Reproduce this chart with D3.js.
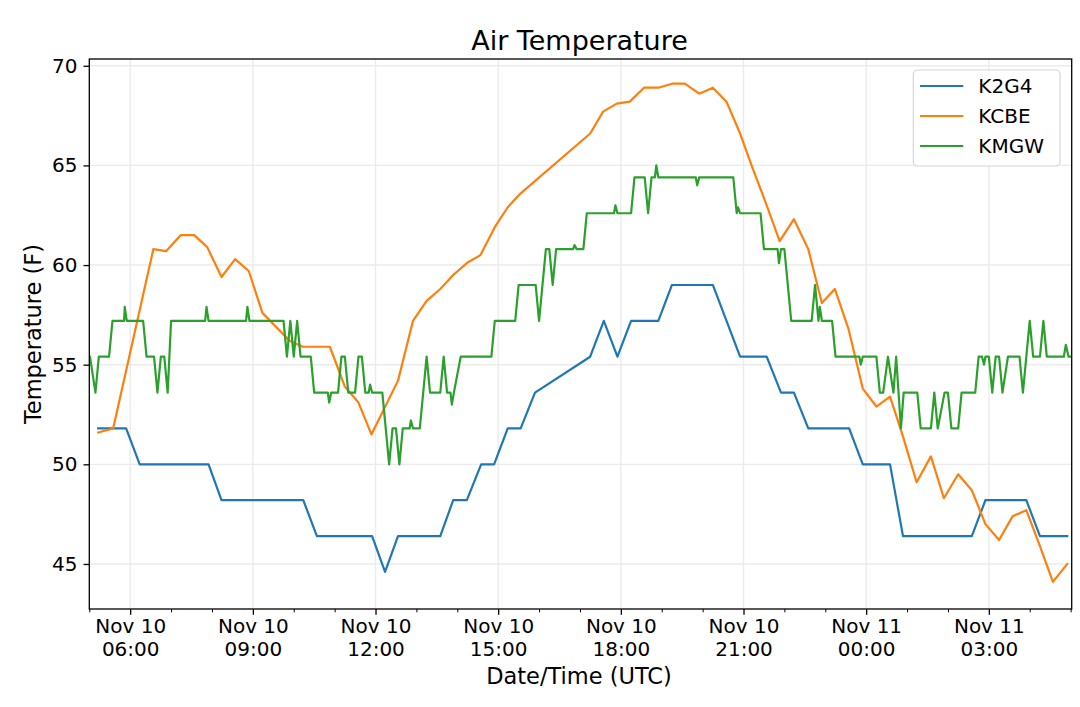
<!DOCTYPE html>
<html><head><meta charset="utf-8">
<script src="https://cdn.jsdelivr.net/npm/d3@7"></script>
<style>
body{margin:0;background:#fff}
svg{display:block}
text{font-family:"DejaVu Sans",sans-serif;fill:#000}
</style>
</head><body>
<svg id="chart" width="1080" height="707"></svg>
<script>
// ---------------- DATA ----------------
const seriesNames = ["K2G4", "KCBE", "KMGW"];
const seriesColors = ["#1f77b4", "#ff7f0e", "#2ca02c"];

const k2g4Times = ["10 05:13","10 05:54","10 06:14","10 07:55","10 08:14","10 10:14","10 10:34","10 11:55","10 12:14","10 12:33","10 13:35","10 13:54","10 14:14","10 14:35","10 14:54","10 15:14","10 15:33","10 15:54","10 17:15","10 17:35","10 17:55","10 18:15","10 18:55","10 19:15","10 20:15","10 20:55","10 21:34","10 21:55","10 22:14","10 22:35","10 23:35","10 23:55","11 00:35","11 00:54","11 02:35","11 02:55","11 03:55","11 04:15","11 04:55"];
const k2g4Temps = [51.8,51.8,50,50,48.2,48.2,46.4,46.4,44.6,46.4,46.4,48.2,48.2,50,50,51.8,51.8,53.6,55.4,57.2,55.4,57.2,57.2,59,59,55.4,55.4,53.6,53.6,51.8,51.8,50,50,46.4,46.4,48.2,48.2,46.4,46.4];

const kcbeTimes = ["10 05:13","10 05:35","10 06:34","10 06:53","10 07:14","10 07:34","10 07:53","10 08:14","10 08:34","10 08:54","10 09:14","10 09:54","10 10:13","10 10:53","10 11:15","10 11:35","10 11:54","10 12:33","10 12:55","10 13:15","10 13:35","10 13:54","10 14:14","10 14:34","10 14:55","10 15:14","10 15:33","10 17:15","10 17:34","10 17:54","10 18:13","10 18:34","10 18:55","10 19:15","10 19:34","10 19:55","10 20:15","10 20:35","10 20:55","10 21:14","10 21:34","10 21:53","10 22:14","10 22:35","10 22:55","10 23:14","10 23:34","10 23:55","11 00:15","11 00:35","11 00:54","11 01:14","11 01:35","11 01:54","11 02:15","11 02:35","11 02:55","11 03:15","11 03:35","11 03:55","11 04:15","11 04:34","11 04:55"];
const kcbeTemps = [51.6,51.8,60.8,60.7,61.5,61.5,60.9,59.4,60.3,59.7,57.6,56.2,55.9,55.9,53.9,53.1,51.5,54.2,57.2,58.2,58.8,59.5,60.1,60.5,61.9,62.9,63.6,66.6,67.7,68.1,68.2,68.9,68.9,69.1,69.1,68.6,68.9,68.2,66.6,64.8,63.0,61.2,62.3,60.8,58.1,58.8,56.8,53.8,52.9,53.4,51.4,49.1,50.4,48.3,49.5,48.7,47.0,46.2,47.4,47.7,45.9,44.1,45.0];

const kmgwTimes = ["10 05:01","10 05:09","10 05:14","10 05:29","10 05:34","10 05:51","10 05:52","10 05:55","10 06:19","10 06:24","10 06:35","10 06:40","10 06:45","10 06:50","10 06:55","10 07:00","10 07:50","10 07:52","10 07:55","10 08:50","10 08:52","10 08:55","10 09:45","10 09:50","10 09:55","10 10:00","10 10:05","10 10:10","10 10:25","10 10:30","10 10:50","10 10:52","10 10:55","10 11:05","10 11:10","10 11:15","10 11:20","10 11:30","10 11:35","10 11:40","10 11:45","10 11:50","10 11:52","10 11:55","10 12:10","10 12:20","10 12:25","10 12:30","10 12:35","10 12:40","10 12:50","10 12:52","10 12:55","10 13:05","10 13:15","10 13:20","10 13:35","10 13:40","10 13:45","10 13:50","10 13:52","10 13:55","10 14:05","10 14:50","10 14:55","10 15:25","10 15:30","10 15:55","10 16:00","10 16:10","10 16:15","10 16:20","10 16:25","10 16:50","10 16:52","10 16:55","10 17:05","10 17:10","10 17:50","10 17:52","10 17:55","10 18:15","10 18:20","10 18:35","10 18:40","10 18:45","10 18:50","10 18:52","10 18:55","10 19:50","10 19:52","10 19:55","10 20:45","10 20:50","10 20:52","10 20:55","10 21:25","10 21:30","10 21:50","10 21:52","10 21:55","10 22:00","10 22:10","10 22:40","10 22:45","10 22:50","10 22:52","10 22:55","10 23:10","10 23:15","10 23:50","10 23:52","10 23:55","11 00:15","11 00:20","11 00:25","11 00:32","11 00:40","11 00:44","11 00:51","11 00:55","11 01:15","11 01:20","11 01:35","11 01:40","11 01:45","11 01:55","11 02:00","11 02:05","11 02:15","11 02:20","11 02:40","11 02:45","11 02:50","11 02:53","11 02:55","11 03:00","11 03:05","11 03:10","11 03:15","11 03:20","11 03:28","11 03:45","11 03:50","11 03:55","11 04:00","11 04:05","11 04:15","11 04:20","11 04:25","11 04:50","11 04:53","11 04:57","11 05:00"];
const kmgwTemps = [55.4,53.6,55.4,55.4,57.2,57.2,57.9,57.2,57.2,55.4,55.4,53.6,55.4,55.4,53.6,57.2,57.2,57.9,57.2,57.2,57.9,57.2,57.2,55.4,57.2,55.4,57.2,55.4,55.4,53.6,53.6,53.1,53.6,53.6,55.4,55.4,53.6,53.6,55.4,55.4,53.6,53.6,54.0,53.6,53.6,50,51.8,51.8,50,51.8,51.8,52.2,51.8,51.8,55.4,53.6,53.6,55.4,53.6,53.6,53.0,53.6,55.4,55.4,57.2,57.2,59,59,57.2,60.8,60.8,59,60.8,60.8,61.0,60.8,60.8,62.6,62.6,63.0,62.6,62.6,64.4,64.4,62.6,64.4,64.4,65.0,64.4,64.4,64.0,64.4,64.4,62.6,62.9,62.6,62.6,60.8,60.8,60.1,60.8,60.8,57.2,57.2,59,57.2,57.9,57.2,57.2,55.4,55.4,55.0,55.4,55.4,53.6,53.6,55.4,53.6,55.4,51.8,53.6,53.6,51.8,51.8,53.6,51.8,53.6,53.6,51.8,51.8,53.6,53.6,55.4,55.4,55.0,55.4,55.4,53.6,55.4,55.4,53.6,55.4,55.4,53.6,55.4,57.2,55.4,55.4,57.2,55.4,55.4,56.0,55.4,55.4];

const yTicks = [45, 50, 55, 60, 65, 70];
const titleText = "Air Temperature";
const xLabelText = "Date/Time (UTC)";
const yLabelText = "Temperature (F)";

// ---------------- CHART ----------------
const parse = d3.utcParse("%m/%d %H:%M");
const toDate = s => parse("11/" + s);

const plot = {left: 89.3, right: 1071.7, top: 59, bottom: 609};
const svg = d3.select("#chart");

const xStart = toDate("10 05:00");
const xEnd = new Date(toDate("11 05:00").getTime() + 95 * 1000);
const x = d3.scaleUtc().domain([xStart, xEnd]).range([plot.left, plot.right]);
const y = d3.scaleLinear().domain([42.74, 70.34]).range([plot.bottom, plot.top]);

const majorX = d3.utcHour.every(3).range(xStart, xEnd);
const minorX = d3.utcHour.every(1).range(xStart, xEnd).filter(d => d.getUTCHours() % 3 !== 0);

// grid
const grid = svg.append("g");
grid.selectAll("line.gx").data(majorX).join("line")
  .attr("x1", d => x(d)).attr("x2", d => x(d))
  .attr("y1", plot.top).attr("y2", plot.bottom)
  .attr("stroke", "#ebebeb").attr("stroke-width", 1.4);
grid.selectAll("line.gy").data(yTicks).join("line")
  .attr("x1", plot.left).attr("x2", plot.right)
  .attr("y1", d => y(d)).attr("y2", d => y(d))
  .attr("stroke", "#ebebeb").attr("stroke-width", 1.4);

// lines
svg.append("clipPath").attr("id", "clip").append("rect")
  .attr("x", plot.left).attr("y", plot.top)
  .attr("width", plot.right - plot.left).attr("height", plot.bottom - plot.top);

const series = [
  {name: seriesNames[0], color: seriesColors[0], times: k2g4Times, temps: k2g4Temps},
  {name: seriesNames[1], color: seriesColors[1], times: kcbeTimes, temps: kcbeTemps},
  {name: seriesNames[2], color: seriesColors[2], times: kmgwTimes, temps: kmgwTemps}
];
const line = d3.line().x(d => x(d[0])).y(d => y(d[1]));
const lines = svg.append("g").attr("clip-path", "url(#clip)");
series.forEach(s => {
  const pts = s.times.map((t, i) => [toDate(t), s.temps[i]]);
  lines.append("path").datum(pts)
    .attr("d", line).attr("fill", "none")
    .attr("stroke", s.color).attr("stroke-width", 2.2)
    .attr("stroke-linejoin", "round").attr("stroke-linecap", "square");
});

// axes
const fmtDay = d3.utcFormat("%b %d");
const fmtTime = d3.utcFormat("%H:%M");
const xAxis = svg.append("g").attr("transform", `translate(0,${plot.bottom})`)
  .call(d3.axisBottom(x).tickValues(majorX).tickSize(5.8).tickPadding(4).tickFormat(""));
xAxis.select(".domain").remove();
xAxis.selectAll(".tick line").attr("stroke", "#000").attr("stroke-width", 1.3);
xAxis.selectAll(".tick").each(function(d) {
  const t = d3.select(this).append("text")
    .attr("text-anchor", "middle").attr("font-size", 20).attr("fill", "#000");
  t.append("tspan").attr("x", 0).attr("y", 23.7).text(fmtDay(d));
  t.append("tspan").attr("x", 0).attr("y", 47).text(fmtTime(d));
});
const xMinor = svg.append("g").attr("transform", `translate(0,${plot.bottom})`)
  .call(d3.axisBottom(x).tickValues(minorX).tickSize(3.3).tickFormat(""));
xMinor.select(".domain").remove();
xMinor.selectAll(".tick line").attr("stroke", "#000").attr("stroke-width", 1.0);

const yAxis = svg.append("g").attr("transform", `translate(${plot.left},0)`)
  .call(d3.axisLeft(y).tickValues(yTicks).tickSize(5.8).tickPadding(6).tickFormat(d3.format("d")));
yAxis.select(".domain").remove();
yAxis.selectAll(".tick line").attr("stroke", "#000").attr("stroke-width", 1.3);
yAxis.selectAll(".tick text").attr("font-size", 20).attr("fill", "#000")
  .attr("font-family", '"DejaVu Sans",sans-serif');

// spines
svg.append("rect")
  .attr("x", plot.left).attr("y", plot.top)
  .attr("width", plot.right - plot.left).attr("height", plot.bottom - plot.top)
  .attr("fill", "none").attr("stroke", "#000").attr("stroke-width", 1.3);

// title & labels
const cx = (plot.left + plot.right) / 2;
svg.append("text").attr("x", cx - 1).attr("y", 50).attr("text-anchor", "middle")
  .attr("font-size", 27).text(titleText);
svg.append("text").attr("x", cx - 1.5).attr("y", 684).attr("text-anchor", "middle")
  .attr("font-size", 22.5).text(xLabelText);
svg.append("text")
  .attr("transform", `translate(41.4,${(plot.top + plot.bottom) / 2}) rotate(-90)`)
  .attr("text-anchor", "middle").attr("font-size", 22.5).text(yLabelText);

// legend
const lg = svg.append("g");
lg.append("rect").attr("x", 913.3).attr("y", 70).attr("width", 146.7).attr("height", 96)
  .attr("rx", 4).attr("fill", "#fff").attr("fill-opacity", 0.85)
  .attr("stroke", "#d6d6d6").attr("stroke-width", 1.2);
const rowY = d3.scalePoint().domain(seriesNames).range([86, 146]);
series.forEach(s => {
  lg.append("line").attr("x1", 920).attr("x2", 963.3)
    .attr("y1", rowY(s.name)).attr("y2", rowY(s.name))
    .attr("stroke", s.color).attr("stroke-width", 2.2);
  lg.append("text").attr("x", 978.3).attr("y", rowY(s.name) + 7.3)
    .attr("font-size", 20).text(s.name);
});
</script>
</body></html>
